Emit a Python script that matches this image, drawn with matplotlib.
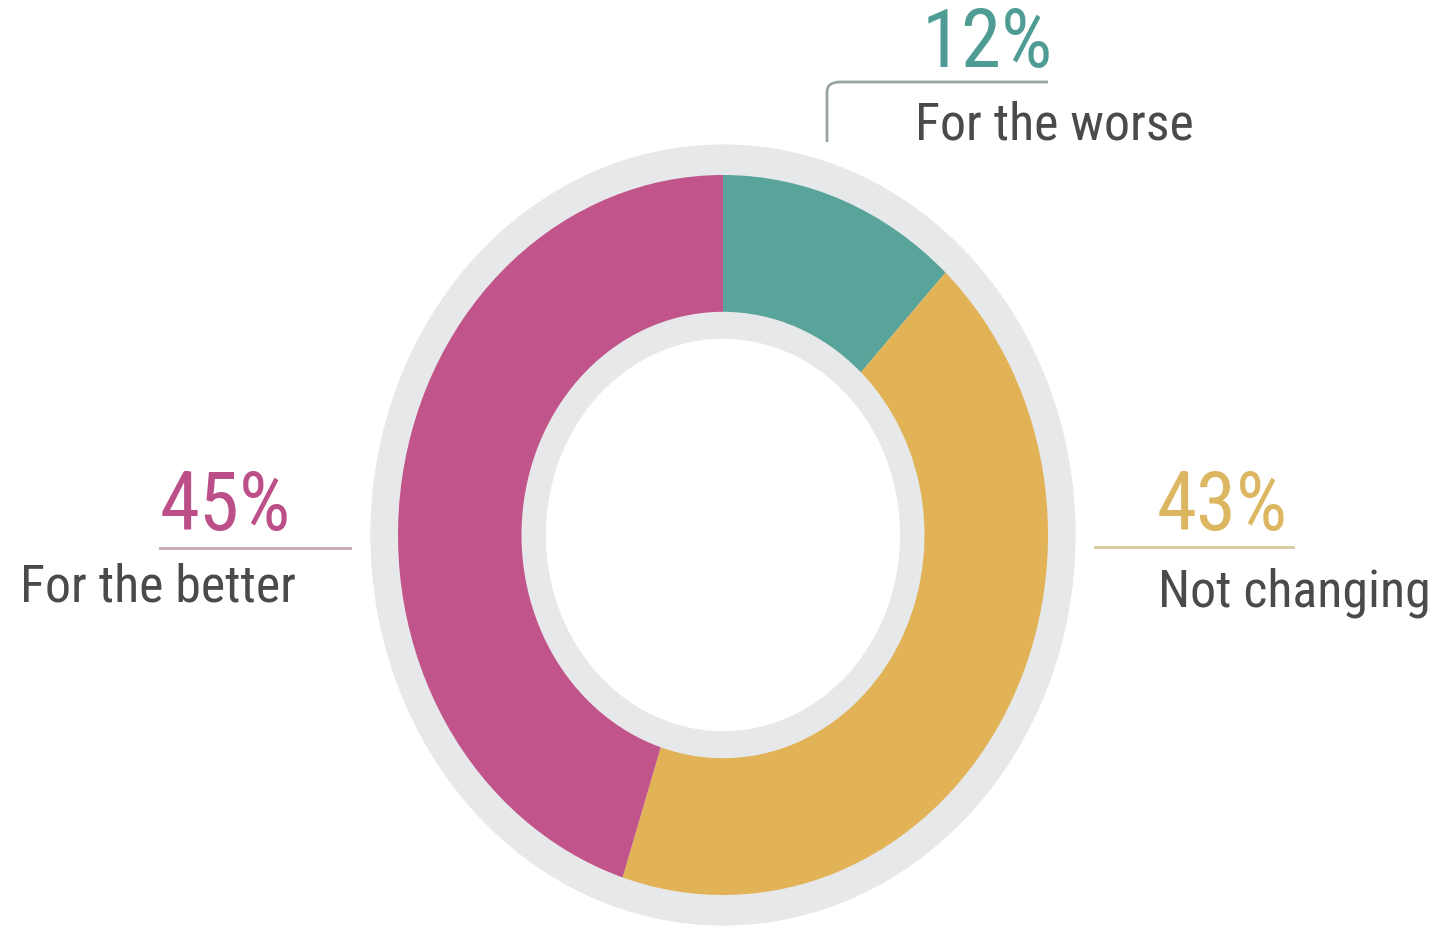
import matplotlib
matplotlib.use("Agg")
import matplotlib.pyplot as plt
from matplotlib import font_manager
from matplotlib.path import Path
from matplotlib.patches import PathPatch

# data
labels = ["For the worse", "Not changing", "For the better"]
shares = [12, 43, 45]
colors = ["#58A39A", "#E2B257", "#C2548C"]
pct_colors = ["#4E9C93", "#DCB660", "#BC4E88"]
line_colors = ["#9AA5A5", "#D8C8A0", "#C7A5B6"]

W, H = 1455, 931

# the original uses a narrow face; take the narrowest one installed
installed = {f.name for f in font_manager.fontManager.ttflist}
wanted = ["Liberation Sans Narrow", "Roboto Condensed", "DejaVu Sans Condensed",
          "Open Sans Condensed", "Lato", "DejaVu Sans"]
FONT = [f for f in wanted if f in installed] or ["DejaVu Sans"]
FONT = FONT[:1] + ["DejaVu Sans"]


def px(x, y):
    # pixel position (from top-left) -> figure fraction
    return x / W, 1 - y / H


def fit_group(fig, texts, widths):
    # one font size per group, sized so the words take the same room as the original
    r = fig.canvas.get_renderer()
    ratios = [w / t.get_window_extent(r).width for t, w in zip(texts, widths)]
    k = sum(ratios) / len(ratios)
    for t in texts:
        t.set_fontsize(t.get_fontsize() * k)


def donut():
    fig = plt.figure(figsize=(W / 100, H / 100), dpi=100)
    ax = fig.add_axes([0, 0, 1, 1])

    # grey backing ring
    ax.pie([1], radius=1.085, colors=["#E6E8E9"], startangle=90,
           wedgeprops=dict(width=0.54, linewidth=0))
    # data ring
    ax.pie(shares, radius=1.0, colors=colors, startangle=90,
           counterclock=False, wedgeprops=dict(width=0.38, linewidth=0))

    # the donut in the reference is slightly taller than wide
    cx, cy, rx, ry = 723, 535, 325, 360
    ax.set_aspect("auto")
    ax.set_xlim(-cx / rx, (W - cx) / rx)
    ax.set_ylim(-(H - cy) / ry, cy / ry)
    ax.axis("off")

    # labels: (pct x, pct baseline, pct width, label x, label baseline, label width)
    spots = [
        (922, 67, 126, 915, 140, 275),
        (1157, 530, 133, 1158, 606, 276),
        (160, 530, 135, 20, 602, 277),
    ]
    pct_txt, lab_txt = [], []
    for i, (a, b, _, lx, ly, _) in enumerate(spots):
        pct_txt.append(fig.text(*px(a, b), f"{shares[i]}%", color=pct_colors[i],
                                fontsize=50, family=FONT, ha="left", va="baseline"))
        lab_txt.append(fig.text(*px(lx, ly), labels[i], color="#4A4A4A",
                                fontsize=36, family=FONT, ha="left", va="baseline"))
    fit_group(fig, pct_txt, [s[2] for s in spots])
    fit_group(fig, lab_txt, [s[5] for s in spots])

    # leader lines
    verts = [px(827, 142), px(827, 92), px(827, 82), px(840, 82), px(1048, 82)]
    codes = [Path.MOVETO, Path.LINETO, Path.CURVE3, Path.CURVE3, Path.LINETO]
    fig.patches.append(PathPatch(Path(verts, codes), transform=fig.transFigure,
                                 fill=False, edgecolor=line_colors[0], lw=2))
    fig.add_artist(plt.Line2D(*zip(px(1095, 547), px(1293, 547)),
                              transform=fig.transFigure, color=line_colors[1], lw=2))
    fig.add_artist(plt.Line2D(*zip(px(160, 548), px(350, 548)),
                              transform=fig.transFigure, color=line_colors[2], lw=2))

    fig.savefig("out.png", dpi=100, facecolor="white")


if __name__ == "__main__":
    donut()
